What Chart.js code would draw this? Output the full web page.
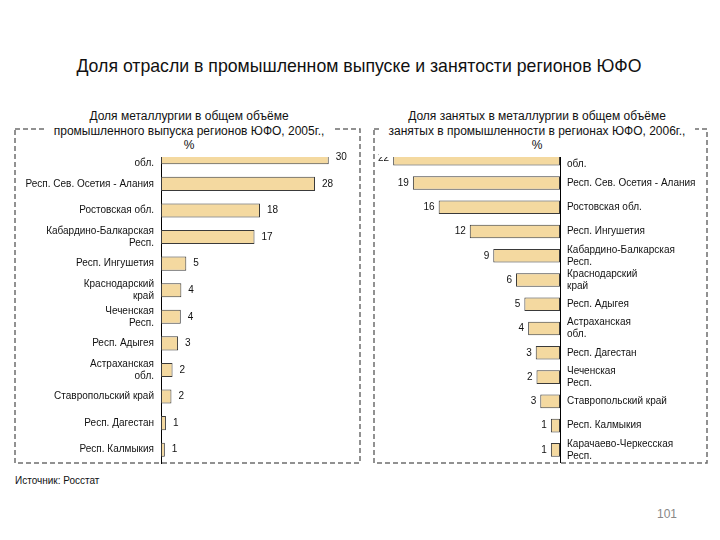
<!DOCTYPE html>
<html>
<head>
<meta charset="utf-8">
<script src="https://cdn.jsdelivr.net/npm/chart.js@4"></script>
<style>
  body { margin: 0; background: #fff; }
  #page { position: relative; width: 720px; height: 540px; font-family: "Liberation Sans", Arial, sans-serif; color: #111; overflow: hidden; }
  canvas { position: absolute; }
  .txt { position: absolute; white-space: nowrap; }
  .sub { position: absolute; background: #fff; text-align: center; font-size: 12px; line-height: 14.5px; padding-top: 3px; box-sizing: border-box; }
</style>
</head>
<body>
<div id="page">
  <div class="txt" style="left:0; width:718px; top:56px; text-align:center; font-size:17.7px;">Доля отрасли в промышленном выпуске и занятости регионов ЮФО</div>

  <canvas id="outChart" width="347" height="336" style="left:14px; top:128px;"></canvas>
  <canvas id="empChart" width="335" height="336" style="left:373px; top:128px;"></canvas>

  <div class="sub" style="left:45px; top:106px; width:288px; height:51px;">Доля металлургии в общем объёме<br>промышленного выпуска регионов ЮФО, 2005г.,<br>%</div>
  <div class="sub" style="left:379px; top:106px; width:316px; height:51px;">Доля занятых в металлургии в общем объёме<br>занятых в промышленности в регионах ЮФО, 2006г.,<br>%</div>

  <div class="txt" style="left:15px; top:475px; font-size:10px;">Источник: Росстат</div>
  <div class="txt" style="left:657px; top:507px; font-size:12px; color:#888;">101</div>
</div>

<script>
// output share, 2005
const outRegions = [
  ["Волгоградская", "обл."], "Респ. Сев. Осетия - Алания", "Ростовская обл.",
  ["Кабардино-Балкарская", "Респ."], "Респ. Ингушетия", ["Краснодарский", "край"],
  ["Чеченская", "Респ."], "Респ. Адыгея", ["Астраханская", "обл."],
  "Ставропольский край", "Респ. Дагестан", "Респ. Калмыкия"
];
const outValues = [30.5, 28, 18, 17, 4.6, 3.7, 3.6, 3.1, 2.1, 1.9, 0.9, 0.7];
const outLabels = ["30", "28", "18", "17", "5", "4", "4", "3", "2", "2", "1", "1"];

// employment share, 2006
const empRegions = [
  ["Волгоградская", "обл."], "Респ. Сев. Осетия - Алания", "Ростовская обл.",
  "Респ. Ингушетия", ["Кабардино-Балкарская", "Респ."], ["Краснодарский", "край"],
  "Респ. Адыгея", ["Астраханская", "обл."], "Респ. Дагестан", ["Чеченская", "Респ."],
  "Ставропольский край", "Респ. Калмыкия", ["Карачаево-Черкесская", "Респ."]
];
const empValues = [22, 19.4, 16, 11.9, 8.8, 5.8, 4.7, 4.2, 3.2, 3.1, 2.6, 1.2, 1.2];
const empLabels = ["22", "19", "16", "12", "9", "6", "5", "4", "3", "2", "3", "1", "1"];

const FONT = "'Liberation Sans', Arial, sans-serif";
const BAR_FILL = "#F4D9A0";
const BAR_EDGE = "#3a3a3a";

const dashedBox = {
  id: "dashedBox",
  beforeDraw(chart) {
    const ctx = chart.ctx;
    ctx.save();
    ctx.setLineDash([5, 3]);
    ctx.lineWidth = 1.5;
    ctx.strokeStyle = "#6e6e6e";
    ctx.strokeRect(1, 1, chart.width - 2, chart.height - 2);
    ctx.restore();
  }
};

const valueLabels = {
  id: "valueLabels",
  afterDatasetsDraw(chart, args, opts) {
    const ctx = chart.ctx;
    const meta = chart.getDatasetMeta(0);
    ctx.save();
    ctx.font = "10px " + FONT;
    ctx.fillStyle = "#111";
    ctx.textBaseline = "middle";
    meta.data.forEach((bar, i) => {
      if (opts.side === "left") {
        ctx.textAlign = "right";
        ctx.fillText(opts.texts[i], bar.x - 4, bar.y);
      } else {
        ctx.textAlign = "left";
        ctx.fillText(opts.texts[i], bar.x + 7, bar.y);
      }
    });
    ctx.restore();
  }
};

function makeChart(id, regions, values, texts, cfg) {
  return new Chart(document.getElementById(id), {
    type: "bar",
    data: {
      labels: regions,
      datasets: [{
        data: values,
        backgroundColor: BAR_FILL,
        borderColor: BAR_EDGE,
        borderWidth: 1,
        borderSkipped: false,
        categoryPercentage: 1,
        barPercentage: cfg.barPct,
      }],
    },
    options: {
      indexAxis: "y",
      responsive: false,
      animation: false,
      devicePixelRatio: 1,
      layout: { padding: cfg.padding },
      scales: {
        x: { display: false, min: 0, max: cfg.max, reverse: cfg.reverse },
        y: {
          position: cfg.axisPos,
          grid: { display: false, drawTicks: false },
          border: { display: true, color: "#000", width: 1 },
          ticks: { autoSkip: false, padding: 7, color: "#111", font: { family: FONT, size: 10 } },
          afterFit: (s) => {
            s.width = cfg.axisWidth;
            // keep the plot height fixed; labels may overflow
            s.paddingTop = 0;
            s.paddingBottom = 0;
          },
        },
      },
      plugins: {
        legend: { display: false },
        tooltip: { enabled: false },
        valueLabels: { texts, side: cfg.labelSide },
      },
    },
    plugins: [dashedBox, valueLabels],
  });
}

makeChart("outChart", outRegions, outValues, outLabels, {
  max: 34, reverse: false, axisPos: "left", axisWidth: 147, barPct: 0.53,
  labelSide: "right", padding: { top: 16, bottom: 1, left: 0, right: 13 },
});

makeChart("empChart", empRegions, empValues, empLabels, {
  max: 24, reverse: true, axisPos: "right", axisWidth: 148, barPct: 0.56,
  labelSide: "left", padding: { top: 18.6, bottom: 2, left: 5, right: 0 },
});
</script>
</body>
</html>
